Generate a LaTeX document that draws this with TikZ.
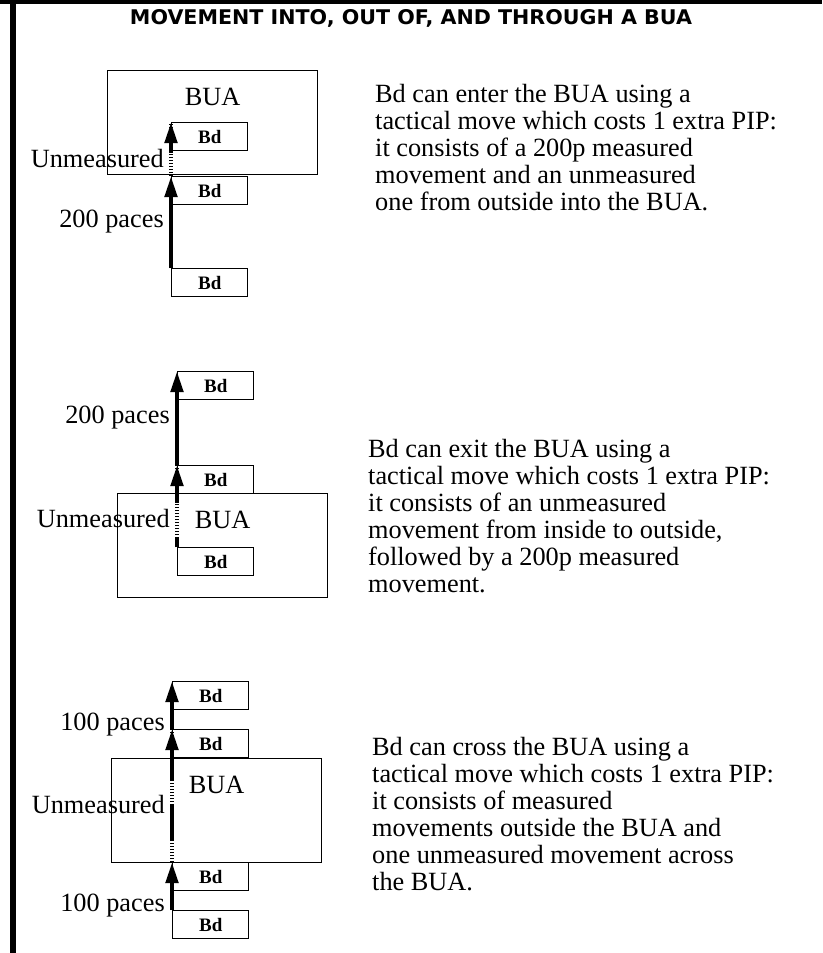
\documentclass[tikz,border=0pt]{standalone}
\usepackage{graphicx}
\usepackage{fontspec}
\setmainfont{Liberation Serif}
\newfontfamily\headfont{DejaVu Sans}
\usetikzlibrary{positioning, arrows.meta}

\begin{document}
\begin{tikzpicture}[x=1pt, y=-1pt,
    every node/.style={inner sep=0pt, font=\fontsize{26.3}{27}\selectfont},
    buabox/.style={draw, line width=1.4pt, minimum width=210pt, minimum height=104pt, anchor=north west},
    bdbox/.style={draw, line width=1.4pt, minimum width=76pt, minimum height=28pt, anchor=north west, font=\fontsize{19}{19}\selectfont\bfseries},
    move/.style={line width=4.5pt, -{Triangle[length=21pt, width=12pt]}},
    unmeas/.style={line width=4.5pt, dash pattern=on 1.5pt off 1.5pt},
    plain/.style={line width=4.5pt},
    tag/.style={anchor=east, xshift=-5pt},
    note/.style={anchor=north west, align=left}]
    \useasboundingbox (0,0) rectangle (822,953);
    \fill (0,0) rectangle (822,4);
    \fill (10,0) rectangle (16,953);

    \node (title) at (411,18) {\resizebox{562pt}{15pt}{\headfont\bfseries MOVEMENT INTO, OUT OF, AND THROUGH A BUA}};

    % entering
    \node[buabox] (bua1) at (107,70) {};
    \node[below=18pt of bua1.north] (bua1lbl) {BUA};
    \node[bdbox] (bd1a) at (171,122) {Bd};
    \node[bdbox] (bd1b) at (171,176) {Bd};
    \node[bdbox] (bd1c) at (171,268) {Bd};
    \draw[move] (bd1c.north west) -- node[tag, pos=0.5] {200 paces} (bd1b.north west);
    \draw[unmeas] (bd1b.north west) -- node[tag, pos=0.33] {Unmeasured} (bd1a.north west);
    \draw[move, shorten <=23pt] (bd1b.north west) -- (bd1a.north west);
    \node[note] (txt1) at (375,84) {Bd can enter the BUA using a\\
      tactical move which costs 1 extra PIP:\\
      it consists of a 200p measured\\
      movement and an unmeasured\\
      one from outside into the BUA.};

    % exiting
    \node[bdbox] (bd2a) at (177,371) {Bd};
    \node[bdbox] (bd2b) at (177,465) {Bd};
    \node[buabox] (bua2) at (117,493) {};
    \node[below=18pt of bua2.north] (bua2lbl) {BUA};
    \node[bdbox] (bd2c) at (177,547) {Bd};
    \draw[move] (bd2b.north west) -- node[tag, pos=0.5] {200 paces} (bd2a.north west);
    \draw[unmeas] (bd2c.north west) -- node[tag, pos=0.35] {Unmeasured} (bd2b.north west);
    \draw[plain, shorten >=73pt] (bd2c.north west) -- (bd2b.north west);
    \draw[move, shorten <=44pt] (bd2c.north west) -- (bd2b.north west);
    \node[note] (txt2) at (368,439) {Bd can exit the BUA using a\\
      tactical move which costs 1 extra PIP:\\
      it consists of an unmeasured\\
      movement from inside to outside,\\
      followed by a 200p measured\\
      movement.};

    % crossing
    \node[bdbox] (bd3a) at (172,681) {Bd};
    \node[bdbox] (bd3b) at (172,729) {Bd};
    \node[buabox] (bua3) at (111,758) {};
    \node[below=18pt of bua3.north] (bua3lbl) {BUA};
    \node[bdbox] (bd3c) at (172,862) {Bd};
    \node[bdbox] (bd3d) at (172,910) {Bd};
    \draw[move] (bd3d.north west) -- node[tag, pos=0.1] {100 paces} (bd3c.north west);
    \draw[move] (bd3b.north west) -- node[tag, pos=0.1] {100 paces} (bd3a.north west);
    \draw[unmeas] (bd3c.north west) -- node[tag, pos=0.43] {Unmeasured} (bd3b.north west);
    \draw[plain, shorten <=22pt, shorten >=76pt] (bd3c.north west) -- (bd3b.north west);
    \draw[move, shorten <=82pt] (bd3c.north west) -- (bd3b.north west);
    \node[note] (txt3) at (372,737) {Bd can cross the BUA using a\\
      tactical move which costs 1 extra PIP:\\
      it consists of measured\\
      movements outside the BUA and\\
      one unmeasured movement across\\
      the BUA.};
\end{tikzpicture}
\end{document}
